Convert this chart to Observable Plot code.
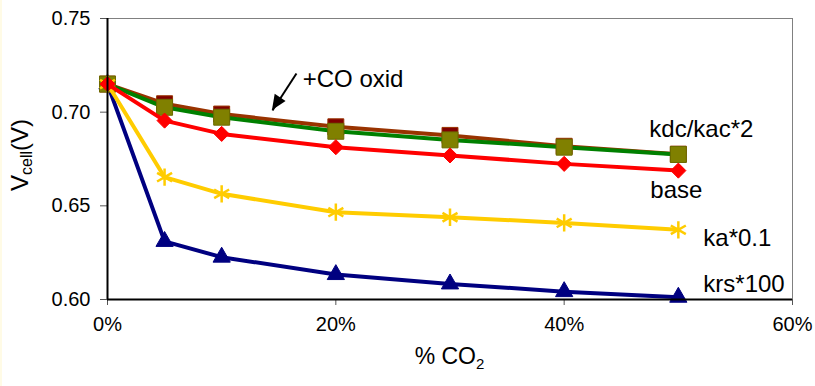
<!DOCTYPE html>
<html><head><meta charset="utf-8">
<script src="https://cdn.jsdelivr.net/npm/d3@7"></script>
<script src="https://cdn.jsdelivr.net/npm/@observablehq/plot@0.6"></script>
<style>
body{margin:0;background:#fff;}
#chart{position:absolute;left:0;top:0;}
#edge{position:absolute;left:0;top:0;width:2px;height:386px;background:#fffbe6;}
</style></head>
<body><div id="chart"></div><div id="edge"></div>
<script>
// ---- data ----
const pctCO2 = [0, 5, 10, 20, 30, 40, 50];
const krs100  = [0.715, 0.6310, 0.6226, 0.6133, 0.6083, 0.6042, 0.6012];
const coOxid  = [0.715, 0.7045, 0.6990, 0.6922, 0.6876, 0.6818, 0.6776];
const kdcKac2 = [0.715, 0.7026, 0.6973, 0.6898, 0.6852, 0.6813, 0.6774];
const ka01    = [0.715, 0.6653, 0.6564, 0.6466, 0.6439, 0.6409, 0.6372];
const base    = [0.715, 0.6955, 0.6884, 0.6813, 0.6769, 0.6724, 0.6688];
const seriesNames = ["krs*100", "+CO oxid", "kdc/kac*2", "ka*0.1", "base"];
const seriesValues = [krs100, coOxid, kdcKac2, ka01, base];
const xTicks = [0, 20, 40, 60];
const yTicks = [0.60, 0.65, 0.70, 0.75];
const xTitle = "% CO";
const xTitleSub = "2";
const yTitle = "V";
const yTitleSub = "cell";
const yTitleTail = "(V)";
const annotationText = "+CO oxid";
const annotationAt = [17.1, 0.7132];
const arrowFrom = [16.55, 0.7206];
const arrowTo = [14.45, 0.7009];

// ---- styles ----
const style = {
  "krs*100":   {line: "#000080", fill: "#000080", stroke: "#000080", symbol: "triangle", r: 6.4, sw: 1, label: {dx: 25, dy: -5}},
  "+CO oxid":  {line: "#993300", fill: "#800000", stroke: "#993300", symbol: "square", r: 9, sw: 1, label: null},
  "kdc/kac*2": {line: "#008000", fill: "#808000", stroke: "#6b6b00", symbol: "square", r: 9, sw: 1, label: {dx: -29, dy: -18}},
  "ka*0.1":    {line: "#FFCC00", fill: "none", stroke: "#FFCC00", symbol: "asterisk", r: 8.2, sw: 2.5, label: {dx: 25, dy: 16}},
  "base":      {line: "#FF0000", fill: "#FF0000", stroke: "#FF0000", symbol: "diamond2", r: 6.8, sw: 1, label: {dx: -28, dy: 27}}
};

const rows = seriesNames.flatMap((s, k) => pctCO2.map((x, i) => ({series: s, x, y: seriesValues[k][i]})));
const font = "'Liberation Sans', Arial, sans-serif";

const marks = [
  Plot.ruleY([0.75], {stroke: "#808080", strokeWidth: 1}),
  Plot.ruleX([60], {stroke: "#808080", strokeWidth: 1}),
  Plot.axisY({ticks: yTicks, tickFormat: d => d.toFixed(2), tickSize: 7, tickPadding: 10, fontSize: 20, stroke: "#555", label: null}),
  Plot.axisX({ticks: xTicks, tickFormat: d => d + "%", tickSize: 6, tickPadding: 11, fontSize: 20, stroke: "#555", label: null})
];
for (const s of seriesNames) {
  const st = style[s];
  const d = rows.filter(r => r.series === s);
  marks.push(Plot.line(d, {x: "x", y: "y", stroke: st.line, strokeWidth: 4, strokeLinejoin: "round"}));
  marks.push(Plot.dot(d, {x: "x", y: "y", symbol: st.symbol, r: st.r, fill: st.fill, stroke: st.stroke, strokeWidth: st.sw}));
  if (st.label) {
    const last = d[d.length - 1];
    marks.push(Plot.text([last], {x: "x", y: "y", text: () => s, textAnchor: "start", lineAnchor: "bottom",
      dx: st.label.dx, dy: st.label.dy, fontSize: 24, fill: "black"}));
  }
}
marks.push(Plot.text([annotationText], {x: () => annotationAt[0], y: () => annotationAt[1], text: d => d,
  textAnchor: "start", lineAnchor: "bottom", fontSize: 24, fill: "black"}));
marks.push(Plot.link([0], {x1: () => arrowFrom[0], y1: () => arrowFrom[1], x2: () => arrowTo[0], y2: () => arrowTo[1],
  stroke: "black", strokeWidth: 2}));
marks.push(Plot.ruleX([0], {stroke: "black", strokeWidth: 2}));
marks.push(Plot.ruleY([0.6], {stroke: "black", strokeWidth: 2}));

const chart = Plot.plot({
  width: 815, height: 386,
  marginLeft: 107, marginRight: 23, marginTop: 18, marginBottom: 87,
  x: {domain: [0, 60]},
  y: {domain: [0.6, 0.75]},
  style: {fontFamily: font, fontSize: "20px", color: "black", background: "white"},
  marks
});
document.getElementById("chart").appendChild(chart);

// ---- arrowhead & axis titles ----
const sx = chart.scale("x"), sy = chart.scale("y");
const svg = d3.select(chart);
const tx = sx.apply(arrowTo[0]), ty = sy.apply(arrowTo[1]);
const fx = sx.apply(arrowFrom[0]), fy = sy.apply(arrowFrom[1]);
const ang = Math.atan2(ty - fy, tx - fx);
const L = 15, W = 6.5;
const bx = tx - L * Math.cos(ang), by = ty - L * Math.sin(ang);
const px = -Math.sin(ang) * W, py = Math.cos(ang) * W;
svg.append("polygon")
  .attr("points", `${tx},${ty} ${bx + px},${by + py} ${bx - px},${by - py}`)
  .attr("fill", "black");

const yt = svg.append("text")
  .attr("transform", "translate(28,155) rotate(-90)")
  .attr("text-anchor", "middle").attr("font-size", 24).attr("font-family", font).attr("fill", "black");
yt.append("tspan").text(yTitle);
yt.append("tspan").attr("font-size", 16).attr("dy", 4).text(yTitleSub);
yt.append("tspan").attr("dy", -4).text(yTitleTail);

const xt = svg.append("text")
  .attr("x", (sx.range[0] + sx.range[1]) / 2).attr("y", 364)
  .attr("text-anchor", "middle").attr("font-size", 23).attr("font-family", font).attr("fill", "black");
xt.append("tspan").text(xTitle);
xt.append("tspan").attr("font-size", 15).attr("dy", 5).text(xTitleSub);
</script>
</body></html>
